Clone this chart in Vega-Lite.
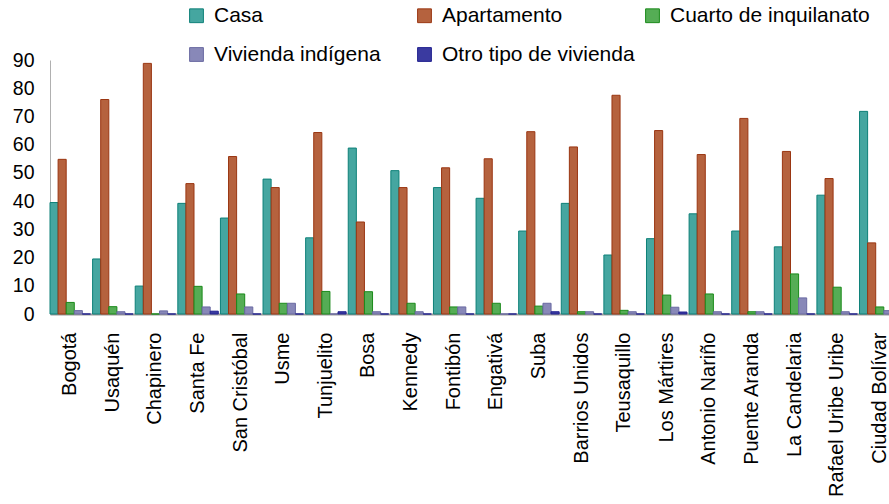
{
  "$schema": "https://vega.github.io/schema/vega-lite/v6.json",
  "autosize": {"type": "none"},
  "padding": {"left": 50, "top": 60, "right": 0, "bottom": 190},
  "width": 839,
  "height": 254,
  "background": "white",
  "config": {
    "font": "Liberation Sans",
    "view": {"stroke": null}
  },
  "data": {
    "values": [
      {"Localidad": "Bogotá", "Casa": 39.5, "Apartamento": 54.8, "Cuarto de inquilanato": 4.1, "Vivienda indígena": 1.2, "Otro tipo de vivienda": 0},
      {"Localidad": "Usaquén", "Casa": 19.5, "Apartamento": 76.0, "Cuarto de inquilanato": 2.6, "Vivienda indígena": 0.8, "Otro tipo de vivienda": 0},
      {"Localidad": "Chapinero", "Casa": 9.9, "Apartamento": 88.8, "Cuarto de inquilanato": 0, "Vivienda indígena": 1.1, "Otro tipo de vivienda": 0},
      {"Localidad": "Santa Fe", "Casa": 39.2, "Apartamento": 46.2, "Cuarto de inquilanato": 9.8, "Vivienda indígena": 2.5, "Otro tipo de vivienda": 1.0},
      {"Localidad": "San Cristóbal", "Casa": 34.0, "Apartamento": 55.8, "Cuarto de inquilanato": 7.1, "Vivienda indígena": 2.5, "Otro tipo de vivienda": 0},
      {"Localidad": "Usme", "Casa": 47.8, "Apartamento": 44.8, "Cuarto de inquilanato": 3.8, "Vivienda indígena": 3.8, "Otro tipo de vivienda": 0},
      {"Localidad": "Tunjuelito", "Casa": 27.0, "Apartamento": 64.3, "Cuarto de inquilanato": 8.0, "Vivienda indígena": 0, "Otro tipo de vivienda": 0.8},
      {"Localidad": "Bosa", "Casa": 58.8, "Apartamento": 32.6, "Cuarto de inquilanato": 7.9, "Vivienda indígena": 0.8, "Otro tipo de vivienda": 0},
      {"Localidad": "Kennedy", "Casa": 50.8, "Apartamento": 44.8, "Cuarto de inquilanato": 3.8, "Vivienda indígena": 0.8, "Otro tipo de vivienda": 0},
      {"Localidad": "Fontibón", "Casa": 44.8, "Apartamento": 51.8, "Cuarto de inquilanato": 2.5, "Vivienda indígena": 2.5, "Otro tipo de vivienda": 0},
      {"Localidad": "Engativá", "Casa": 41.0, "Apartamento": 55.0, "Cuarto de inquilanato": 3.8, "Vivienda indígena": 0, "Otro tipo de vivienda": 0},
      {"Localidad": "Suba", "Casa": 29.4, "Apartamento": 64.6, "Cuarto de inquilanato": 2.8, "Vivienda indígena": 3.8, "Otro tipo de vivienda": 0.8},
      {"Localidad": "Barrios Unidos", "Casa": 39.2, "Apartamento": 59.2, "Cuarto de inquilanato": 0.8, "Vivienda indígena": 0.8, "Otro tipo de vivienda": 0},
      {"Localidad": "Teusaquillo", "Casa": 20.9, "Apartamento": 77.5, "Cuarto de inquilanato": 1.3, "Vivienda indígena": 0.8, "Otro tipo de vivienda": 0},
      {"Localidad": "Los Mártires", "Casa": 26.7, "Apartamento": 65.0, "Cuarto de inquilanato": 6.7, "Vivienda indígena": 2.4, "Otro tipo de vivienda": 0.7},
      {"Localidad": "Antonio Nariño", "Casa": 35.5, "Apartamento": 56.5, "Cuarto de inquilanato": 7.1, "Vivienda indígena": 0.8, "Otro tipo de vivienda": 0},
      {"Localidad": "Puente Aranda", "Casa": 29.4, "Apartamento": 69.3, "Cuarto de inquilanato": 0.8, "Vivienda indígena": 0.8, "Otro tipo de vivienda": 0},
      {"Localidad": "La Candelaria", "Casa": 23.8, "Apartamento": 57.6, "Cuarto de inquilanato": 14.2, "Vivienda indígena": 5.7, "Otro tipo de vivienda": 0},
      {"Localidad": "Rafael Uribe Uribe", "Casa": 42.1, "Apartamento": 48.0, "Cuarto de inquilanato": 9.5, "Vivienda indígena": 0.8, "Otro tipo de vivienda": 0},
      {"Localidad": "Ciudad Bolívar", "Casa": 71.8, "Apartamento": 25.2, "Cuarto de inquilanato": 2.5, "Vivienda indígena": 1.2, "Otro tipo de vivienda": 0}
    ]
  },
  "transform": [
    {"fold": ["Casa", "Apartamento", "Cuarto de inquilanato", "Vivienda indígena", "Otro tipo de vivienda"], "as": ["Tipo", "Valor"]}
  ],
  "mark": {"type": "bar", "strokeWidth": 1},
  "encoding": {
    "x": {
      "field": "Localidad",
      "type": "nominal",
      "sort": null,
      "scale": {"range": [0, 850], "paddingInner": 0.05, "paddingOuter": 0},
      "axis": {
        "title": null,
        "labelAngle": -90,
        "labelAlign": "right",
        "labelBaseline": "middle",
        "labelFontSize": 20,
        "labelColor": "#000000",
        "labelPadding": 18,
        "ticks": false,
        "domainColor": "#999999",
        "domainWidth": 2,
        "labelLimit": 300
      }
    },
    "xOffset": {
      "field": "Tipo",
      "type": "nominal",
      "sort": ["Casa", "Apartamento", "Cuarto de inquilanato", "Vivienda indígena", "Otro tipo de vivienda"],
      "scale": {"paddingInner": 0, "paddingOuter": 0}
    },
    "y": {
      "field": "Valor",
      "type": "quantitative",
      "scale": {"domain": [0, 90], "nice": false},
      "axis": {
        "title": null,
        "values": [0, 10, 20, 30, 40, 50, 60, 70, 80, 90],
        "grid": false,
        "ticks": false,
        "labelFontSize": 19.5,
        "labelColor": "#000000",
        "labelPadding": 16,
        "domainColor": "#b0b0b0",
        "domainWidth": 1
      }
    },
    "fill": {
      "field": "Tipo",
      "type": "nominal",
      "scale": {
        "domain": ["Casa", "Apartamento", "Cuarto de inquilanato", "Vivienda indígena", "Otro tipo de vivienda"],
        "range": ["#45A6A0", "#B5623E", "#55AD55", "#8888B8", "#3A3AA0"]
      },
      "legend": {
        "title": null,
        "orient": "none",
        "legendX": 136,
        "legendY": -55,
        "direction": "horizontal",
        "columns": 3,
        "gridAlign": "all",
        "columnPadding": 0,
        "rowPadding": 17,
        "symbolType": "square",
        "symbolSize": 190,
        "symbolStrokeWidth": 1,
        "labelFontSize": 21,
        "labelColor": "#000000",
        "labelOffset": 7,
        "labelLimit": 300
      }
    },
    "stroke": {
      "field": "Tipo",
      "type": "nominal",
      "scale": {
        "domain": ["Casa", "Apartamento", "Cuarto de inquilanato", "Vivienda indígena", "Otro tipo de vivienda"],
        "range": ["#0E8078", "#9A3612", "#1A8A1A", "#6A6AA2", "#222290"]
      },
      "legend": null
    }
  }
}
